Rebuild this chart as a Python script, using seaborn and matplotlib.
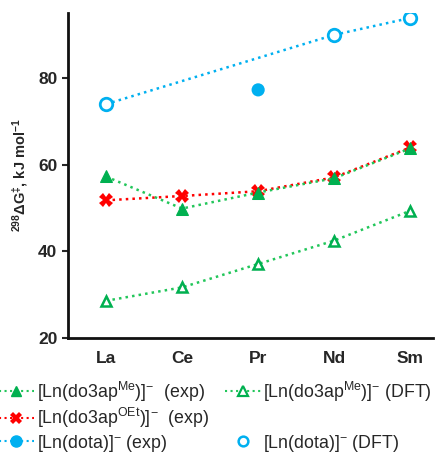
import numpy as np
import pandas as pd
import matplotlib
matplotlib.use('Agg')
import matplotlib.pyplot as plt
import seaborn as sns
from matplotlib.lines import Line2D

elements = ['La', 'Ce', 'Pr', 'Nd', 'Sm']
me_exp = [57.3, 49.9, 53.6, 56.9, 63.8]
oet_exp = [51.8, 52.8, 53.9, 57.1, 64.0]
me_dft = [28.6, 31.7, 37.1, 42.5, 49.4]
dota_exp = [np.nan, np.nan, 77.3, np.nan, np.nan]
dota_dft = [74.0, np.nan, np.nan, 90.0, 93.9]

sns.set_style('ticks')
plt.rcParams['font.family'] = ['Liberation Sans', 'DejaVu Sans']
plt.rcParams['mathtext.default'] = 'regular'

green = '#00B050'
green2 = '#22C65A'
red = '#FF0000'
blue = '#00B0F0'

x = np.arange(len(elements))
df = pd.DataFrame({'x': x, 'me_exp': me_exp, 'oet_exp': oet_exp,
                   'me_dft': me_dft, 'dota_exp': dota_exp, 'dota_dft': dota_dft})

fig = plt.figure(figsize=(4.38, 4.55), dpi=100)
ax = fig.add_axes([0.155, 0.257, 0.834, 0.714])

line_kw = dict(linestyle=':', linewidth=1.8)
sns.lineplot(data=df, x='x', y='me_dft', ax=ax, color=green2, marker='^', markersize=7.5,
             markerfacecolor='white', markeredgecolor=green, markeredgewidth=1.8, **line_kw)
sns.lineplot(data=df, x='x', y='oet_exp', ax=ax, color=red, marker='X', markersize=10,
             markeredgewidth=0, **line_kw)
sns.lineplot(data=df, x='x', y='me_exp', ax=ax, color=green2, marker='^', markersize=8,
             markerfacecolor=green, markeredgecolor=green, **line_kw)
sns.lineplot(data=df, x='x', y='dota_dft', ax=ax, color=blue, marker='o', markersize=9,
             markerfacecolor='white', markeredgecolor=blue, markeredgewidth=2, **line_kw)
sns.scatterplot(data=df, x='x', y='dota_exp', ax=ax, color=blue, s=90, edgecolor='none')

ax.set_xlim(-0.5, 4.3)
ax.set_ylim(20, 95)
ax.set_yticks([20, 40, 60, 80])
ax.set_xticks(x)
ax.set_xticklabels(elements)
ax.tick_params(axis='x', length=0, pad=9)
ax.tick_params(axis='y', length=4, width=1.5, direction='out')
for lab in ax.get_xticklabels() + ax.get_yticklabels():
    lab.set_fontweight('bold')
    lab.set_fontsize(12.5)
ax.set_xlabel('')
ax.set_ylabel(r'$^{298}\Delta G^{\ddagger}$, kJ mol$^{-1}$', fontsize=10.5, fontweight='bold', labelpad=6)
sns.despine(ax=ax)
for side in ['left', 'bottom']:
    ax.spines[side].set_linewidth(2)
    ax.spines[side].set_color('#111111')

handles = [
    Line2D([], [], color=green2, linestyle=':', linewidth=1.5, marker='^', markersize=7,
           markerfacecolor=green, markeredgecolor=green),
    Line2D([], [], color=red, linestyle=':', linewidth=1.5, marker='X', markersize=9,
           markeredgewidth=0),
    Line2D([], [], color=blue, linestyle=':', linewidth=1.5, marker='o', markersize=8,
           markerfacecolor=blue, markeredgecolor=blue),
    Line2D([], [], color=green2, linestyle=':', linewidth=1.5, marker='^', markersize=7,
           markerfacecolor='white', markeredgecolor=green, markeredgewidth=1.6),
    Line2D([], [], linestyle='none', marker='none'),
    Line2D([], [], linestyle='none', marker='o', markersize=7,
           markerfacecolor='white', markeredgecolor=blue, markeredgewidth=1.8),
]
labels = [
    r'[Ln(do3ap$^{Me}$)]$^{-}$  (exp)',
    r'[Ln(do3ap$^{OEt}$)]$^{-}$  (exp)',
    r'[Ln(dota)]$^{-}$ (exp)',
    r'[Ln(do3ap$^{Me}$)]$^{-}$ (DFT)',
    r'[Ln(do3ap$^{OEt}$)]$^{-}$',  # placeholder, hidden below
    r'[Ln(dota)]$^{-}$ (DFT)',
]
leg = fig.legend(handles, labels, loc='upper left', bbox_to_anchor=(-0.003, 0.166), ncol=2,
                 frameon=False, fontsize=12.8, handlelength=2.0, handletextpad=0.15,
                 columnspacing=0.9, labelspacing=0.14, borderaxespad=0, borderpad=0)
leg.get_texts()[4].set_visible(False)

fig.savefig('out.png', dpi=100)
